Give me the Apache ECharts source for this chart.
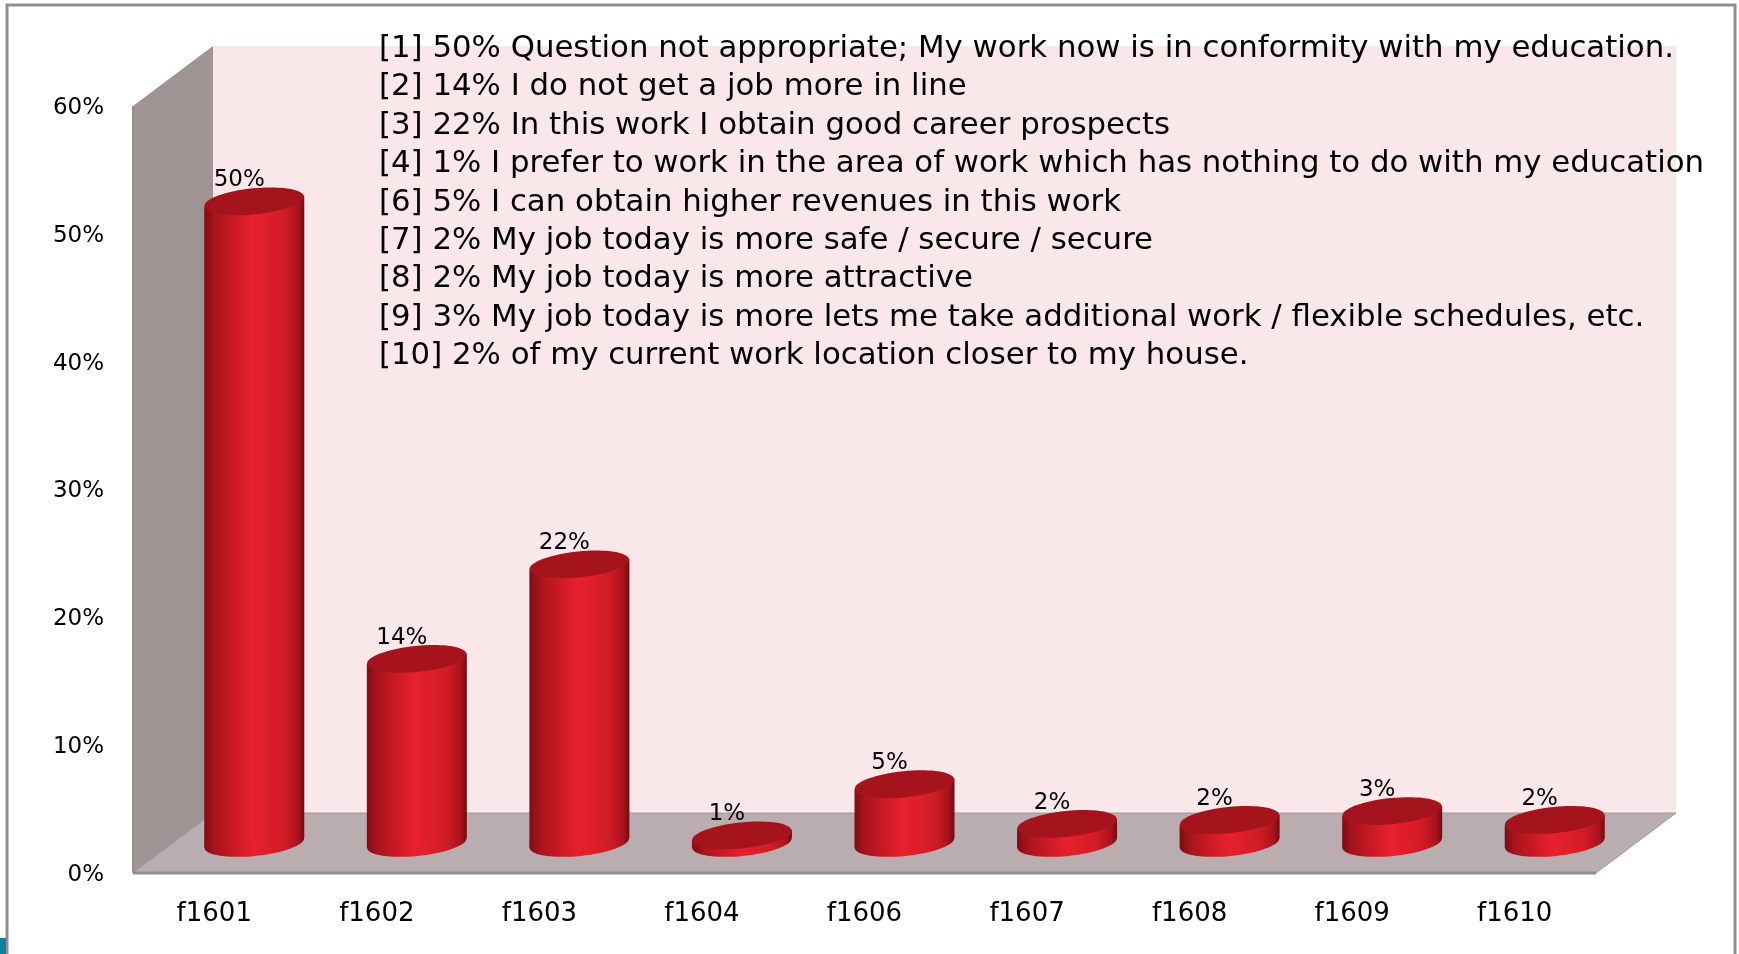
<!DOCTYPE html>
<html>
<head>
<meta charset="utf-8">
<title>f16</title>
<style>
html, body { margin: 0; padding: 0; background: #fff; }
#chart { width: 1739px; height: 954px; }
</style>
<script src="https://cdn.jsdelivr.net/npm/echarts@6/dist/echarts.min.js"></script>
</head>
<body>
<div id="chart"></div>
<script>
var categories = ['f1601', 'f1602', 'f1603', 'f1604', 'f1606', 'f1607', 'f1608', 'f1609', 'f1610'];
var values = [50.2, 14.4, 21.8, 0.6, 4.6, 1.5, 1.8, 2.5, 1.8];
var yTicks = [0, 10, 20, 30, 40, 50, 60];
var notes = [
    '[1] 50% Question not appropriate; My work now is in conformity with my education.',
    '[2] 14% I do not get a job more in line',
    '[3] 22% In this work I obtain good career prospects',
    '[4] 1% I prefer to work in the area of work which has nothing to do with my education',
    '[6] 5% I can obtain higher revenues in this work',
    '[7] 2% My job today is more safe / secure / secure',
    '[8] 2% My job today is more attractive',
    '[9] 3% My job today is more lets me take additional work / flexible schedules, etc.',
    '[10] 2% of my current work location closer to my house.'
];

var fontName = 'DejaVu Sans';
var depthX = 80;
var depthY = 60;
var barRadius = 50;
var capRadius = 13;
var capSkew = 5;

var chartDom = document.getElementById('chart');
var myChart = echarts.init(chartDom);

// walls and floor of the fake 3d box
function renderBox(params, api) {
    var c = params.coordSys;
    var l = c.x, r = c.x + c.width, t = c.y, b = c.y + c.height;
    return {
        type: 'group',
        children: [
            {
                type: 'polygon',
                shape: { points: [[l + depthX, t - depthY], [r + depthX, t - depthY], [r + depthX, b - depthY], [l + depthX, b - depthY]] },
                style: { fill: '#f9e7e9' }
            },
            {
                type: 'polygon',
                shape: { points: [[l, b], [l, t], [l + depthX, t - depthY], [l + depthX, b - depthY]] },
                style: { fill: '#a09393' }
            },
            {
                type: 'polygon',
                shape: { points: [[l, b], [r, b], [r + depthX, b - depthY], [l + depthX, b - depthY]] },
                style: { fill: '#baadaf', stroke: '#9a9a9a', lineWidth: 1 }
            },
            { type: 'line', shape: { x1: l, y1: t, x2: l, y2: b }, style: { stroke: '#8f8f8f', lineWidth: 2 } },
            { type: 'line', shape: { x1: l, y1: b, x2: r, y2: b }, style: { stroke: '#8f8f8f', lineWidth: 3 } }
        ]
    };
}

function cylinderFill() {
    return new echarts.graphic.LinearGradient(0, 0, 1, 0, [
        { offset: 0, color: '#7c0d14' },
        { offset: 0.1, color: '#a8141d' },
        { offset: 0.48, color: '#e8212d' },
        { offset: 0.8, color: '#d01c26' },
        { offset: 0.94, color: '#a9131c' },
        { offset: 1, color: '#700b11' }
    ]);
}

function renderCylinder(params, api) {
    var base = api.coord([api.value(0), 0]);
    var top = api.coord([api.value(0), api.value(1)]);
    var x = base[0] + depthX / 2;
    var y0 = base[1] - depthY / 2;
    var y1 = top[1] - depthY / 2;
    return {
        type: 'group',
        children: [
            {
                type: 'text',
                z2: 1,
                style: {
                    x: x - 15,
                    y: y1 - 21,
                    text: Math.round(api.value(1)) + '%',
                    align: 'center',
                    verticalAlign: 'middle',
                    font: '23px "' + fontName + '"',
                    fill: '#000'
                }
            },
            {
                type: 'ellipse',
                z2: 2,
                x: x,
                y: y0,
                rotation: 0.1,
                shape: { cx: 0, cy: 0, rx: barRadius, ry: capRadius },
                style: { fill: cylinderFill() }
            },
            {
                type: 'polygon',
                z2: 3,
                shape: { points: [[x - barRadius, y1 + capSkew], [x + barRadius, y1 - capSkew], [x + barRadius, y0 - capSkew], [x - barRadius, y0 + capSkew]] },
                style: { fill: cylinderFill() }
            },
            {
                type: 'ellipse',
                z2: 4,
                x: x,
                y: y1,
                rotation: 0.1,
                shape: { cx: 0, cy: 0, rx: barRadius, ry: capRadius },
                style: { fill: '#a5141c' }
            }
        ]
    };
}

var noteTexts = notes.map(function (line, i) {
    return {
        type: 'text',
        z: 100,
        x: 379,
        y: 49 + i * 38.4,
        style: {
            text: line,
            font: '30.8px "' + fontName + '"',
            fill: '#000',
            verticalAlign: 'middle'
        }
    };
});

var frame = [
    { type: 'polyline', z: 1, shape: { points: [[7, 954], [7, 5], [1735, 5], [1735, 954]] }, style: { stroke: '#8f8f8f', lineWidth: 3, fill: null } },
    { type: 'rect', z: 1, shape: { x: 0, y: 938, width: 6, height: 16 }, style: { fill: '#0f7f9b' } }
];

var option = {
    animation: false,
    backgroundColor: '#fff',
    textStyle: { fontFamily: fontName },
    graphic: frame.concat(noteTexts),
    grid: { left: 133, right: 143, top: 106, bottom: 81 },
    xAxis: {
        type: 'category',
        data: categories,
        axisLine: { show: false },
        axisTick: { show: false },
        axisLabel: { color: '#000', fontSize: 26, fontFamily: fontName, margin: 28 },
        z: 5
    },
    yAxis: {
        type: 'value',
        min: yTicks[0],
        max: yTicks[yTicks.length - 1],
        interval: 10,
        axisLine: { show: false },
        axisTick: { show: false },
        splitLine: { show: false },
        axisLabel: {
            margin: 29,
            formatter: '{v|{value}%}',
            rich: { v: { color: '#000', fontSize: 23, fontFamily: fontName, padding: [4, 0, 0, 0] } }
        }
    },
    series: [
        {
            type: 'custom',
            renderItem: renderBox,
            data: [0],
            z: 1,
            silent: true
        },
        {
            type: 'custom',
            renderItem: renderCylinder,
            encode: { x: 0, y: 1 },
            data: values.map(function (v, i) { return [i, v]; }),
            z: 2
        }
    ]
};
myChart.setOption(option);
</script>
</body>
</html>
